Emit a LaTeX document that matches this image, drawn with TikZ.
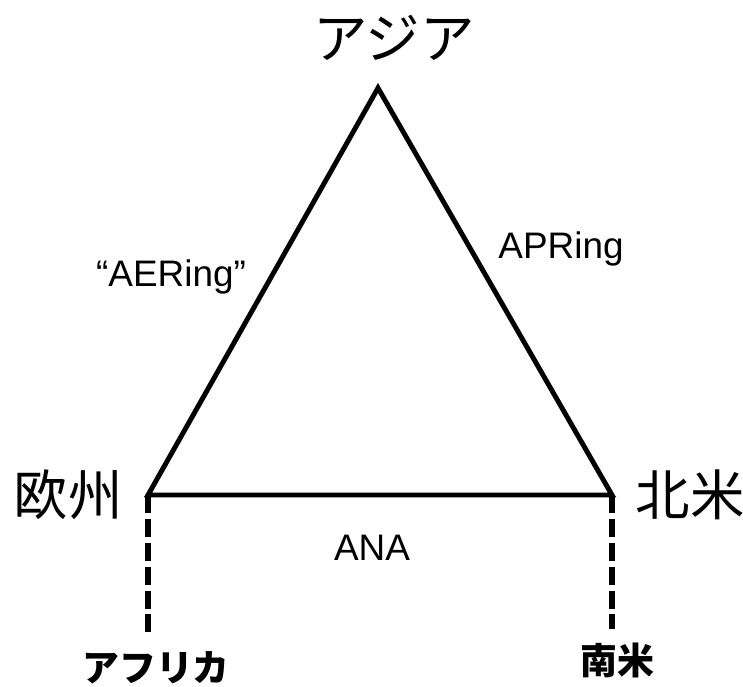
\documentclass[tikz,border=0pt]{standalone}
\usepackage{fontspec}
\setmainfont{Liberation Sans}
\newfontfamily\jp{Noto Sans CJK JP}
\begin{document}
\begin{tikzpicture}[x={(0.02cm,0)},y={(0,-0.02cm)},
  edge/.style={line width=2.8pt,line join=miter},
  dashline/.style={line width=3.4pt,dash pattern=on 10.2pt off 3.4pt},
  big/.style={font=\jp\fontsize{31pt}{33pt}\selectfont},
  small/.style={font=\jp\bfseries\fontsize{21pt}{23pt}\selectfont},
  lab/.style={font=\fontsize{21pt}{23pt}\selectfont}]
\useasboundingbox (0,0) rectangle (743,686);
\coordinate (A) at (378,88);
\coordinate (E) at (148,495);
\coordinate (N) at (612,495);
\coordinate (Af) at (148,637);
\coordinate (Sa) at (612,629);
\draw[edge] (A) -- (E) -- (N) -- cycle;
\draw[dashline] (E) -- (Af);
\draw[dashline] (N) -- (Sa);
\node[big] (tA) at (394,38) {アジア};
\node[big] (tE) at (68,495) {欧州};
\node[big] (tN) at (690,495) {北米};
\node[small] (tAf) at (156,668) {アフリカ};
\node[small] (tSa) at (617,660) {南米};
\node[lab] (l1) at (171,277) {“AERing”};
\node[lab] (l2) at (561,249) {APRing};
\node[lab] (l3) at (372,548) {ANA};
\end{tikzpicture}
\end{document}
